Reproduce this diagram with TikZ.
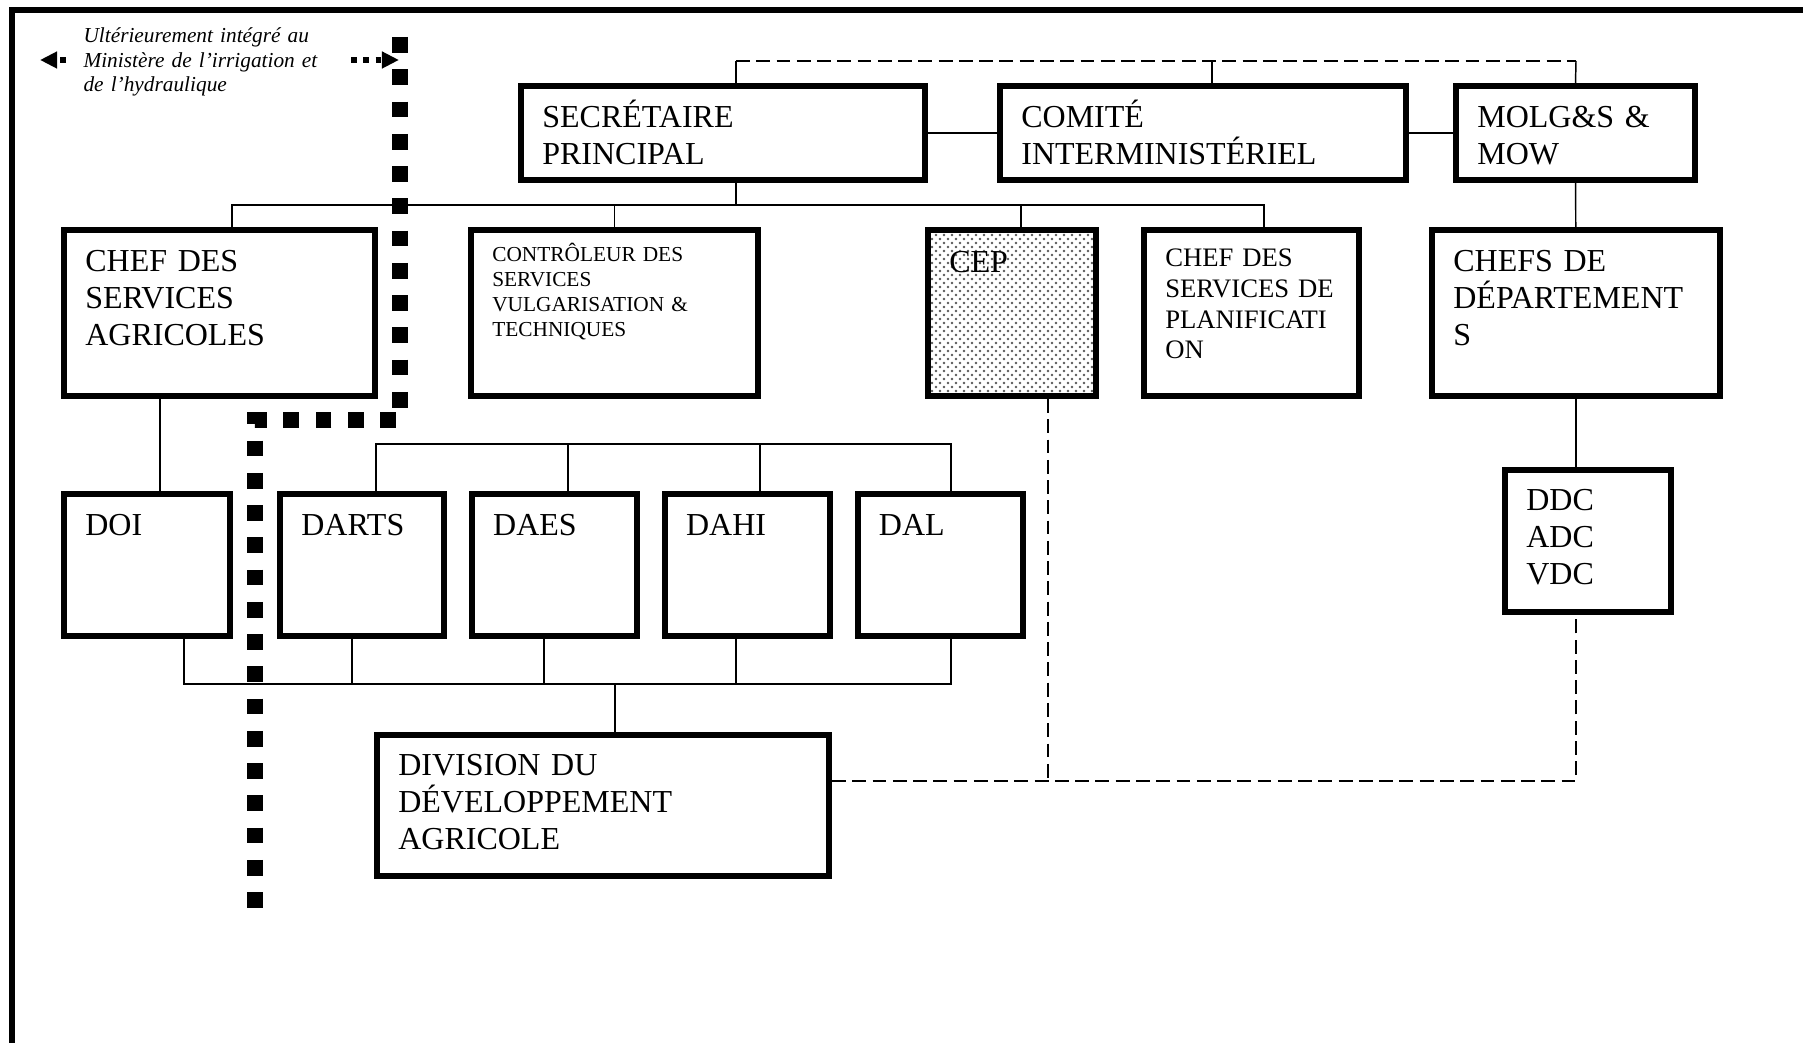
\documentclass[tikz,border=0pt]{standalone}
\usepackage{fontspec}
\setmainfont{Liberation Serif}
\usetikzlibrary{positioning,patterns,arrows.meta}

\begin{document}
\begin{tikzpicture}[x=0.375pt,y=-0.375pt,node distance=8.2pt,
  orgbox/.style n args={3}{draw,line width=2.25pt,anchor=north west,align=left,
    inner xsep=8pt,inner ysep=0pt,font=\fontsize{12}{13.8}\selectfont,
    text width={#1*0.375pt-18.25pt},text height={#3*0.375pt-1.125pt},
    text depth={#2*0.375pt-1.125pt-#3*0.375pt}},
  cepfill/.style={preaction={fill=white},pattern=crosshatch dots,pattern color=black!65},
  note/.style={anchor=base west,align=left,text width=100pt,inner sep=0pt,
    font=\fontsize{8}{9.1}\selectfont\itshape},
  link/.style={line width=0.55pt},
  dlink/.style={link,dash pattern=on 5.2pt off 2.4pt},
  bar/.style={line width=5.9pt,dash pattern=on 5.9pt off 6.2pt},
  pointer/.style={line width=2.1pt,dash pattern=on 2.1pt off 2.5pt,
    -{Triangle[length=6.4pt,width=6pt]}},
  frame/.style={line width=2.1pt}]
  \useasboundingbox (0,0) rectangle (1803,1043);
  \draw[frame] (12,1043) -- (12,10) -- (1803,10);

  \node[orgbox={410}{100}{45}] (sp)   at (518,83)  {SECRÉTAIRE\\PRINCIPAL};
  \node[orgbox={412}{100}{45}] (ci)   at (997,83)  {COMITÉ\\INTERMINISTÉRIEL};
  \node[orgbox={245}{100}{45}] (molg) at (1453,83) {MOLG\&S \&\\MOW};

  \node[orgbox={317}{172}{45}] (csa) at (61,227) {CHEF DES\\SERVICES\\AGRICOLES};
  \node[orgbox={293}{172}{35},font=\fontsize{8}{9.3}\selectfont] (cvt) at (468,227)
    {CONTRÔLEUR DES\\SERVICES\\VULGARISATION \&\\TECHNIQUES};
  \node[orgbox={174}{172}{46},cepfill] (cep) at (925,227) {CEP};
  \node[orgbox={221}{172}{40},font=\fontsize{10}{11.5}\selectfont] (csp) at (1141,227)
    {CHEF DES\\SERVICES DE\\PLANIFICATI\\ON};
  \node[orgbox={294}{172}{45}] (cdd) at (1429,227) {CHEFS DE\\DÉPARTEMENT\\S};

  \node[orgbox={172}{148}{45}] (doi)   at (61,491)  {DOI};
  \node[orgbox={170}{148}{45}] (darts) at (277,491) {DARTS};
  \node[orgbox={171}{148}{45},right=of darts] (daes) {DAES};
  \node[orgbox={171}{148}{45},right=of daes]  (dahi) {DAHI};
  \node[orgbox={171}{148}{45},right=of dahi]  (dal)  {DAL};
  \node[orgbox={172}{148}{44}] (ddc) at (1502,467) {DDC\\ADC\\VDC};
  \node[orgbox={458}{147}{44}] (dda) at (374,732) {DIVISION DU\\DÉVELOPPEMENT\\AGRICOLE};

  \node[note] (note) at (83,43) {Ultérieurement intégré au\\Ministère de l’irrigation et\\de l’hydraulique};
  \coordinate (qa) at (66,60);
  \coordinate (qb) at (40,60);
  \coordinate (pa) at (351,60);
  \coordinate (pb) at (399,60);
  \draw[pointer] (qa) -- (qb);
  \draw[pointer] (pa) -- (pb);

  \draw[link] (sp) -- (ci);
  \draw[link] (ci) -- (molg);
  \coordinate (ka) at (736,61);
  \coordinate (kb) at (1212,61);
  \coordinate (kc) at (1576,61);
  \draw[dlink] (ka) -- (kc);
  \draw[link] (ka) -- (ka |- sp.north);
  \draw[link] (kb) -- (kb |- ci.north);
  \draw[link] (kc) -- (molg.north);

  \coordinate (ra) at (232,205);
  \coordinate (rb) at (1021,205);
  \coordinate (rc) at (1264,205);
  \draw[link] (ka |- sp.south) -- (ka |- ra);
  \draw[link] (ra |- csa.north) -- (ra) -- (rc) -- (rc |- csp.north);
  \draw[link] (cvt.north) -- (cvt.north |- ra);
  \draw[link] (rb) -- (rb |- cep.north);
  \draw[link] (molg) -- (cdd);
  \draw[link] (cdd.south) -- (cdd.south |- ddc.north);
  \draw[link] ([xshift=4.9pt]doi.north) -- ([xshift=4.9pt]doi.north |- csa.south);

  \coordinate (ta) at (376,444);
  \coordinate (tb) at (568,444);
  \coordinate (tc) at (760,444);
  \coordinate (td) at (951,444);
  \draw[link] (ta |- darts.north) -- (ta) -- (td) -- (td |- dal.north);
  \draw[link] (tb) -- (tb |- daes.north);
  \draw[link] (tc) -- (tc |- dahi.north);

  \coordinate (ua) at (184,684);
  \coordinate (ub) at (352,684);
  \coordinate (uc) at (544,684);
  \coordinate (ud) at (736,684);
  \coordinate (ue) at (951,684);
  \coordinate (uf) at (615,684);
  \draw[link] (ua |- doi.south) -- (ua) -- (ue) -- (ue |- dal.south);
  \draw[link] (ub |- darts.south) -- (ub);
  \draw[link] (uc |- daes.south) -- (uc);
  \draw[link] (ud |- dahi.south) -- (ud);
  \draw[link] (uf) -- (uf |- dda.north);

  \coordinate (va) at (1048,781);
  \coordinate (vb) at (1576,781);
  \draw[dlink] (va |- cep.south) -- (va);
  \draw[dlink] (dda.east |- va) -- (vb) -- (vb |- ddc.south);

  \draw[bar] (400,37) -- (400,420) -- (255,420) -- (255,917);
\end{tikzpicture}
\end{document}
